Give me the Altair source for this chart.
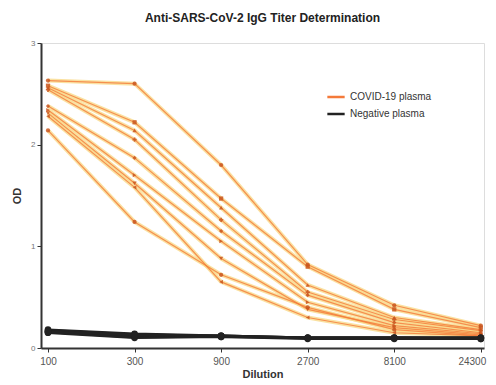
import altair as alt
import pandas as pd

dilutions = [100, 300, 900, 2700, 8100, 24300]

covid_series = [
    [2.63, 2.60, 1.80, 0.82, 0.42, 0.22],
    [2.58, 2.22, 1.47, 0.80, 0.38, 0.20],
    [2.56, 2.14, 1.38, 0.62, 0.30, 0.18],
    [2.54, 2.05, 1.26, 0.55, 0.28, 0.17],
    [2.38, 1.87, 1.15, 0.52, 0.25, 0.15],
    [2.34, 1.70, 1.05, 0.45, 0.22, 0.14],
    [2.31, 1.62, 0.88, 0.38, 0.20, 0.13],
    [2.28, 1.58, 0.65, 0.30, 0.15, 0.12],
    [2.14, 1.24, 0.72, 0.40, 0.18, 0.12],
]

negative_series = [
    [0.18, 0.14, 0.12, 0.10, 0.10, 0.10],
    [0.17, 0.12, 0.12, 0.10, 0.10, 0.10],
    [0.16, 0.11, 0.11, 0.10, 0.10, 0.09],
    [0.15, 0.10, 0.11, 0.09, 0.09, 0.09],
    [0.16, 0.13, 0.12, 0.10, 0.10, 0.10],
]

groups = ["COVID-19 plasma", "Negative plasma"]

rows = []
for i, s in enumerate(covid_series):
    for d, v in zip(dilutions, s):
        rows.append({"dilution": d, "od": v, "series": f"c{i}", "group": groups[0]})
for i, s in enumerate(negative_series):
    for d, v in zip(dilutions, s):
        rows.append({"dilution": d, "od": v, "series": f"n{i}", "group": groups[1]})
df = pd.DataFrame(rows)

x = alt.X("dilution:Q",
          scale=alt.Scale(type="log", domain=[91.5, 25300], nice=False),
          axis=alt.Axis(values=dilutions, title="Dilution", labelFontSize=10,
                        labelColor="#555", titleFontSize=11, titleFontWeight="bold",
                        titleColor="#333", domainColor="#333", domainWidth=2,
                        tickColor="#333", tickSize=4, grid=False, labelFlush=False,
                        labelOffset=alt.expr("datum.value == 24300 ? -9 : 0"),
                        format="d", titlePadding=2, labelPadding=4))
y = alt.Y("od:Q", scale=alt.Scale(domain=[0, 3], nice=False),
          axis=alt.Axis(values=[0, 1, 2, 3], title="OD", labelFontSize=8,
                        labelColor="#777", titleFontSize=11, titleFontWeight="bold",
                        titleColor="#333", domainColor="#333", domainWidth=2,
                        tickColor="#333", tickSize=4, grid=False, titlePadding=8))

covid = df[df.group == groups[0]]
neg = df[df.group == groups[1]]

halo = alt.Chart(covid).mark_line(strokeWidth=4, color="#f9d98a", opacity=0.8).encode(
    x=x, y=y, detail="series:N")

lines = alt.Chart(df).mark_line(strokeWidth=1.2, opacity=0.8).encode(
    x=x, y=y, detail="series:N",
    color=alt.Color("group:N", scale=alt.Scale(domain=groups, range=["#f47a3a", "#222222"]),
                    legend=alt.Legend(title=None, orient="none", legendX=285, legendY=44,
                                      symbolType="stroke", symbolStrokeWidth=2.5,
                                      symbolSize=300, symbolOpacity=1, labelFontSize=10,
                                      labelColor="#333", rowPadding=2)))

neg_thick = alt.Chart(neg).mark_line(strokeWidth=2.5, color="#222").encode(
    x=x, y=y, detail="series:N")

covid_pts = alt.Chart(covid).mark_point(filled=True, size=18, color="#c9561f", opacity=0.85).encode(
    x=x, y=y, shape=alt.Shape("series:N", legend=None))

neg_pts = alt.Chart(neg).mark_circle(size=45, color="#222", opacity=1).encode(x=x, y=y)

chart = alt.layer(halo, lines, neg_thick, covid_pts, neg_pts).properties(
    width=443, height=305,
    title=alt.TitleParams("Anti-SARS-CoV-2 IgG Titer Determination", fontSize=12,
                          fontWeight="bold", color="#222", anchor="middle", offset=14),
    autosize=alt.AutoSizeParams(type="none"),
    padding={"left": 33, "top": 35, "right": 4, "bottom": 30},
).configure_view(stroke=None).configure(font="Liberation Sans")

chart.save("out.html", embed_options={"renderer": "svg", "actions": False})
